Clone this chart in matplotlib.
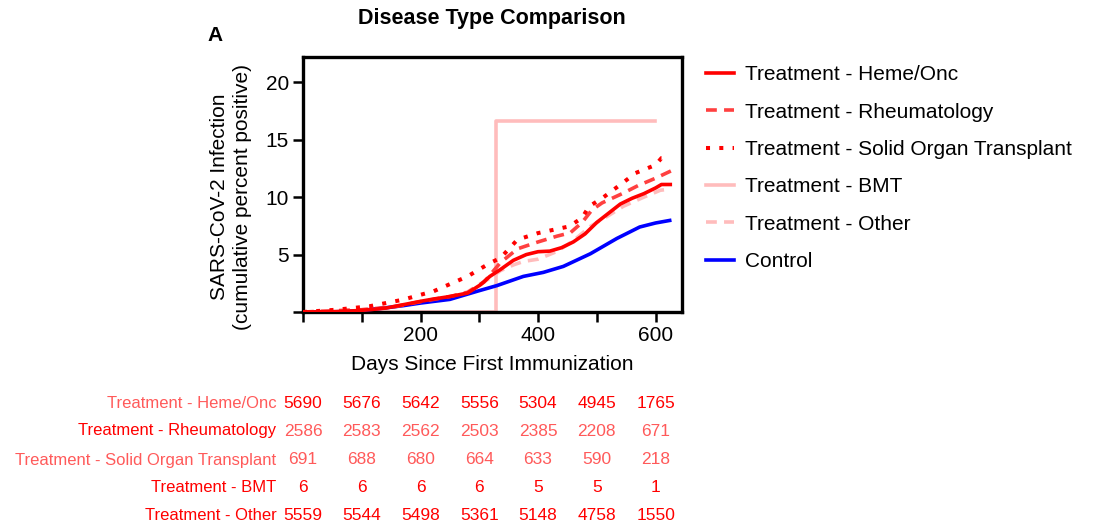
import matplotlib
matplotlib.use("Agg")
import matplotlib.pyplot as plt
from matplotlib.transforms import blended_transform_factory

plt.rcParams['font.family'] = ['Liberation Sans', 'DejaVu Sans']

# ---------------- data ----------------
heme_x = [0, 50, 85, 113, 142, 170, 200, 222, 250, 280, 302, 318, 336, 358, 380, 400, 420, 440, 460, 480, 500, 520, 540, 560, 580, 600, 610, 625]
heme_y = [0, 0.03, 0.1, 0.2, 0.35, 0.63, 0.93, 1.13, 1.35, 1.65, 2.37, 3.1, 3.7, 4.5, 5.0, 5.25, 5.3, 5.6, 6.1, 6.8, 7.8, 8.6, 9.4, 9.9, 10.3, 10.8, 11.1, 11.1]

rheum_x = [0, 100, 150, 200, 250, 280, 308, 336, 365, 400, 432, 455, 475, 492, 509, 543, 570, 600, 627]
rheum_y = [0, 0.2, 0.4, 0.9, 1.35, 1.7, 2.6, 4.3, 5.5, 6.1, 6.6, 6.9, 7.8, 8.9, 9.5, 10.3, 11.0, 11.65, 12.3]

sot_x = [0, 57, 113, 170, 200, 222, 280, 318, 336, 365, 400, 453, 475, 487, 509, 543, 566, 600, 610, 622]
sot_y = [0, 0.2, 0.5, 1.07, 1.5, 1.8, 3.1, 4.26, 4.7, 6.3, 6.87, 7.45, 8.2, 9.2, 9.9, 11.2, 12.1, 12.8, 13.4, 13.4]

bmt_x = [0, 329, 329, 599]
bmt_y = [0, 0, 16.67, 16.67]

other_x = [0, 100, 150, 200, 250, 280, 300, 320, 336, 358, 375, 400, 432, 460, 489, 520, 545, 580, 608, 625]
other_y = [0, 0.2, 0.45, 0.9, 1.3, 1.75, 2.4, 3.0, 3.6, 4.1, 4.4, 4.6, 5.27, 6.2, 7.45, 8.4, 9.2, 10.0, 10.6, 10.7]

control_x = [0, 50, 92, 130, 170, 200, 250, 296, 330, 375, 409, 443, 489, 534, 573, 600, 624]
control_y = [0, 0, 0.1, 0.3, 0.55, 0.78, 1.1, 1.8, 2.3, 3.1, 3.45, 3.97, 5.07, 6.4, 7.4, 7.75, 7.97]

series_labels = ["Treatment - Heme/Onc", "Treatment - Rheumatology",
                 "Treatment - Solid Organ Transplant", "Treatment - BMT",
                 "Treatment - Other", "Control"]

# number at risk table
risk_days = [0, 100, 200, 300, 400, 500, 600]
risk_labels = ["Treatment - Heme/Onc", "Treatment - Rheumatology",
               "Treatment - Solid Organ Transplant", "Treatment - BMT",
               "Treatment - Other"]
risk_heme = [5690, 5676, 5642, 5556, 5304, 4945, 1765]
risk_rheum = [2586, 2583, 2562, 2503, 2385, 2208, 671]
risk_sot = [691, 688, 680, 664, 633, 590, 218]
risk_bmt = [6, 6, 6, 6, 5, 5, 1]
risk_other = [5559, 5544, 5498, 5361, 5148, 4758, 1550]

x_ticks = [0, 100, 200, 300, 400, 500, 600]
x_ticklabels = ["", "", "200", "", "400", "", "600"]
y_ticks = [0, 5, 10, 15, 20]
y_ticklabels = ["", "5", "10", "15", "20"]

# ---------------- styles ----------------
RED = "#ff0000"
RED2 = "#ff4040"
PINK = "#ffbcbc"
BLUE = "#0000ff"
LW = 2.6
FS = 15

fig = plt.figure(figsize=(10.93, 5.31), dpi=100)
ax = fig.add_axes([0.2772, 0.4124, 0.3468, 0.4803])

l_heme, = ax.plot(heme_x, heme_y, color=RED, lw=LW, zorder=5)
l_rheum, = ax.plot(rheum_x, rheum_y, color=RED2, lw=LW, ls=(0, (3, 2)), zorder=4)
l_sot, = ax.plot(sot_x, sot_y, color=RED, lw=2.9, ls=(0, (1, 2.3)), zorder=4)
l_bmt, = ax.plot(bmt_x, bmt_y, color=PINK, lw=LW, zorder=2)
l_other, = ax.plot(other_x, other_y, color=PINK, lw=LW, ls=(0, (3, 2)), zorder=3)
l_ctrl, = ax.plot(control_x, control_y, color=BLUE, lw=LW, zorder=3)

ax.set_xlim(0, 645)
ax.set_ylim(0, 22.2)
for s in ax.spines.values():
    s.set_linewidth(2.4)
ax.set_xticks(x_ticks)
ax.set_xticklabels(x_ticklabels)
ax.set_yticks(y_ticks)
ax.set_yticklabels(y_ticklabels)
ax.tick_params(axis='both', direction='out', length=7, width=1.8, labelsize=FS, pad=3)

# axis labels (Prism style: y label centred on 0..20 range)
ax.text(0.5, -0.205, "Days Since First Immunization", transform=ax.transAxes,
        ha='center', va='center', fontsize=FS)
ylab_tr = blended_transform_factory(fig.transFigure, ax.transData)
ax.text(0.2113, 10, "SARS-CoV-2 Infection\n(cumulative percent positive)",
        transform=ylab_tr, rotation=90, ha='center', va='center', fontsize=FS,
        linespacing=1.3)

fig.text(0.45, 0.965, "Disease Type Comparison", ha='center', va='center',
         fontsize=15.5, fontweight='bold')
fig.text(0.1965, 0.934, "A", ha='center', va='center', fontsize=15, fontweight='bold')

# legend
handles = [l_heme, l_rheum, l_sot, l_bmt, l_other, l_ctrl]
fig.legend(handles, series_labels, loc='upper left', bbox_to_anchor=(0.646, 0.877),
           frameon=False, fontsize=FS, handlelength=1.35, handletextpad=0.5,
           labelspacing=0.88, borderaxespad=0, borderpad=0)

# number at risk table
tbl_tr = blended_transform_factory(ax.transData, fig.transFigure)
LIGHT = "#ff5a5a"
rows = [risk_heme, risk_rheum, risk_sot, risk_bmt, risk_other]
row_y_px = [403.5, 431, 460, 488, 515.5]
label_colors = [LIGHT, RED, LIGHT, RED, RED]
num_colors = [RED, LIGHT, LIGHT, RED, RED]
for lab, vals, ypx, lc, nc in zip(risk_labels, rows, row_y_px, label_colors, num_colors):
    yf = 1 - ypx / 531.0
    ax.text(-45, yf, lab, transform=tbl_tr, ha='right', va='center', fontsize=12,
            color=lc, clip_on=False)
    for d, v in zip(risk_days, vals):
        ax.text(d, yf, str(v), transform=tbl_tr, ha='center', va='center',
                fontsize=12.5, color=nc, clip_on=False)

fig.savefig("out.png", dpi=100)
